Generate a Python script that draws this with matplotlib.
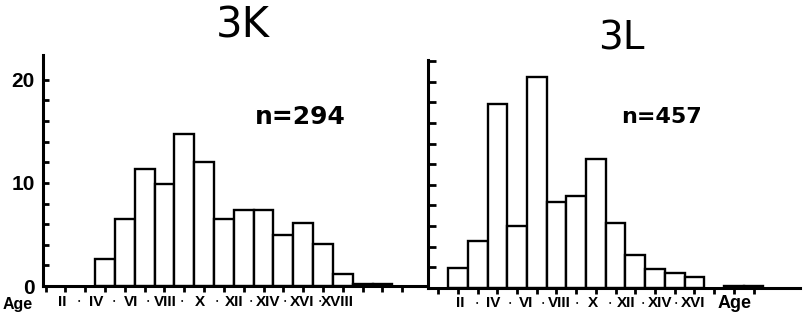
import matplotlib
matplotlib.use('Agg')
import matplotlib.pyplot as plt
import matplotlib.transforms as mtransforms

ROMAN = ['', 'I', 'II', 'III', 'IV', 'V', 'VI', 'VII', 'VIII', 'IX', 'X',
         'XI', 'XII', 'XIII', 'XIV', 'XV', 'XVI', 'XVII', 'XVIII', 'XIX']

# sample 3K, percent per age class
ages_k = [4, 5, 6, 7, 8, 9, 10, 11, 12, 13, 14, 15, 16, 17, 18]
pct_k = [2.65, 6.5, 11.3, 9.9, 14.7, 12.0, 6.5, 7.35, 7.35, 4.9, 6.1, 4.1,
         1.2, 0.2, 0.2]
label_ages_k = [2, 4, 6, 8, 10, 12, 14, 16, 18]

# sample 3L
ages_l = [2, 3, 4, 5, 6, 7, 8, 9, 10, 11, 12, 13, 14, 16, 17]
pct_l = [1.95, 4.6, 17.8, 6.05, 20.5, 8.35, 8.9, 12.5, 6.3, 3.2, 1.8, 1.45,
         1.05, 0.15, 0.15]
label_ages_l = [2, 4, 6, 8, 10, 12, 14, 16]

titles = ['3K', '3L']
n_texts = ['n=294', 'n=457']

LAB_FONT = ['Liberation Sans', 'DejaVu Sans']
AXLW = 2.2


def draw_panel(fig, rect, ages, pct, xlim, ylim, xticks, tick_len):
    ax = fig.add_axes(rect)
    ax.bar(ages, pct, width=1.0, facecolor='white', edgecolor='black',
           linewidth=1.7, zorder=2)
    ax.set_xlim(*xlim)
    ax.set_ylim(*ylim)
    for s in ['top', 'right']:
        ax.spines[s].set_visible(False)
    for s in ['left', 'bottom']:
        ax.spines[s].set_linewidth(AXLW)
        ax.spines[s].set_zorder(3)
    ax.set_xticks(xticks)
    ax.set_xticklabels([])
    ax.tick_params(axis='x', direction='out', length=4.5, width=2)
    ax.tick_params(axis='y', which='both', direction='in', length=tick_len,
                   width=2)
    return ax


def draw_age_labels(fig, ax, ages, pos, y):
    tr = mtransforms.blended_transform_factory(ax.transData, fig.transFigure)
    for i, a in enumerate(ages):
        fig.text(pos(a), y, ROMAN[a], transform=tr, ha='center', va='center',
                 fontsize=11, fontweight='bold', family=LAB_FONT)
        if i < len(ages) - 1:
            fig.text(pos(a + 1), y, '•', transform=tr, ha='center',
                     va='center', fontsize=5, family=LAB_FONT)


fig = plt.figure(figsize=(8.04, 3.33), dpi=100)

# left panel (3K)
ax1 = draw_panel(fig, [43 / 804, 1 - 286 / 333, 387 / 804, 231 / 333],
                 ages_k, pct_k, (0.87, 20.4), (0, 22.4), range(1, 20), 4)
ax1.set_yticks([0, 10, 20])
ax1.set_yticks(range(2, 22, 2), minor=True)
ax1.set_yticklabels(['0', '10', '20'], fontsize=15, fontweight='bold',
                    family=LAB_FONT)
ax1.tick_params(axis='y', pad=6)
draw_age_labels(fig, ax1, label_ages_k, lambda a: 1.83 + (a - 2) * 0.867,
                1 - 302 / 333)
fig.text(18 / 804, 1 - 305 / 333, 'Age', ha='center', va='center',
         fontsize=11.5, fontweight='bold', family=LAB_FONT)

# right panel (3L)
ax2 = draw_panel(fig, [428 / 804, 1 - 288 / 333, 372 / 804, 228 / 333],
                 ages_l, pct_l, (0.48, 19.36), (0, 22.1), range(1, 18), 6)
ax2.set_yticks(range(0, 23, 2))
ax2.set_yticklabels([])
draw_age_labels(fig, ax2, label_ages_l, lambda a: 2.1 + (a - 2) * 0.845,
                1 - 303 / 333)
fig.text(735 / 804, 1 - 303 / 333, 'Age', ha='center', va='center',
         fontsize=13, fontweight='bold', family=LAB_FONT)

# titles and sample sizes
fig.text(243 / 804, 1 - 25 / 333, titles[0], ha='center', va='center',
         fontsize=30)
fig.text(621 / 804, 1 - 38 / 333, titles[1], ha='center', va='center',
         fontsize=28)
fig.text(300 / 804, 1 - 117 / 333, n_texts[0], ha='center', va='center',
         fontsize=18, fontweight='bold')
fig.text(662 / 804, 1 - 117 / 333, n_texts[1], ha='center', va='center',
         fontsize=16, fontweight='bold')

fig.savefig('out.png', dpi=100)
